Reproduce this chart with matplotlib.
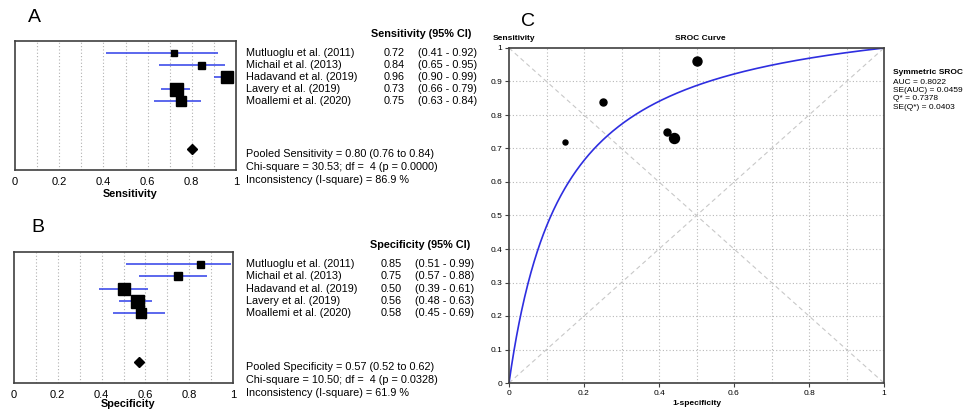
import numpy as np
import matplotlib
matplotlib.use('Agg')
import matplotlib.pyplot as plt

plt.rcParams['font.family'] = ['Liberation Sans', 'DejaVu Sans']

# study data
studies = ['Mutluoglu et al. (2011)', 'Michail et al. (2013)', 'Hadavand et al. (2019)',
           'Lavery et al. (2019)', 'Moallemi et al. (2020)']
sens = [0.72, 0.84, 0.96, 0.73, 0.75]
sens_lo = [0.41, 0.65, 0.90, 0.66, 0.63]
sens_hi = [0.92, 0.95, 0.99, 0.79, 0.84]
spec = [0.85, 0.75, 0.50, 0.56, 0.58]
spec_lo = [0.51, 0.57, 0.39, 0.48, 0.45]
spec_hi = [0.99, 0.88, 0.61, 0.63, 0.69]
# relative study weights (marker size)
sens_weight = [6, 7, 12, 13, 10]
spec_weight = [7, 8, 12, 13, 10]
circle_weight = [5, 7, 9, 10, 7]

pooled_sens = 0.80
pooled_spec = 0.57
sens_stats = ['Pooled Sensitivity = 0.80 (0.76 to 0.84)',
              'Chi-square = 30.53; df =  4 (p = 0.0000)',
              'Inconsistency (I-square) = 86.9 %']
spec_stats = ['Pooled Specificity = 0.57 (0.52 to 0.62)',
              'Chi-square = 10.50; df =  4 (p = 0.0328)',
              'Inconsistency (I-square) = 61.9 %']
sroc_stats = ['AUC = 0.8022', 'SE(AUC) = 0.0459', 'Q* = 0.7378', 'SE(Q*) = 0.0403']
q_star = 0.7378

W, H = 974, 411
fig = plt.figure(figsize=(W / 100, H / 100), dpi=100)
FS = 7.8


def px_axes(l, t, r, b):
    return fig.add_axes([l / W, 1 - b / H, (r - l) / W, (b - t) / H])


def forest(box, est, lo, hi, wt, pooled, title, xlabel, label_px, stats, letter,
           letter_xy, name_px, val_px, ci_px, head_px):
    l, t, r, b = box
    ax = px_axes(l, t, r, b)
    rows = np.arange(1, len(est) + 1)
    ax.hlines(rows, lo, hi, color='#2f3fe8', lw=1.1, zorder=2)
    for y, e, w in zip(rows, est, wt):
        ax.plot(e, y, 's', color='black', ms=w * 0.72, zorder=3)
    ax.plot(pooled, 9.0, 'D', color='black', ms=5, zorder=3)
    ax.set_xlim(0, 1)
    ax.set_ylim(10.75, 0)
    ax.set_yticks([])
    ax.set_xticks(np.arange(0, 1.01, 0.2))
    ax.set_xticklabels(['0', '0.2', '0.4', '0.6', '0.8', '1'])
    ax.tick_params(axis='x', length=0, pad=5, labelsize=8)
    for gx in np.arange(0.1, 1.0, 0.1):
        ax.axvline(gx, color='#b0b0b0', lw=0.8, ls=(0, (1, 2)), zorder=1)
    for s in ax.spines.values():
        s.set_color('#404040')
        s.set_linewidth(1.2)
    ax.set_xlabel(xlabel, fontsize=FS, fontweight='bold', labelpad=0)
    ax.xaxis.label.set_va('center')
    ax.xaxis.set_label_coords(0.52, -(label_px - b) / (b - t))

    wpx = r - l
    tr = ax.get_yaxis_transform()
    ax.text((head_px - l) / wpx, -0.6, title, transform=tr, ha='right', va='center',
            fontsize=FS, fontweight='bold', clip_on=False)
    for y, name, e, a, c in zip(rows, studies, est, lo, hi):
        ax.text((name_px - l) / wpx, y, name, transform=tr, ha='left', va='center',
                fontsize=FS, clip_on=False)
        ax.text((val_px - l) / wpx, y, f'{e:.2f}', transform=tr, ha='right', va='center',
                fontsize=FS, clip_on=False)
        ax.text((ci_px - l) / wpx, y, f'({a:.2f} - {c:.2f})', transform=tr, ha='right',
                va='center', fontsize=FS, clip_on=False)
    for y, s in zip([9.45, 10.5, 11.55], stats):
        ax.text((name_px - l) / wpx, y, s, transform=tr, ha='left', va='center',
                fontsize=FS, clip_on=False)
    fig.text(letter_xy[0] / W, 1 - letter_xy[1] / H, letter, fontsize=14,
             ha='center', va='center')
    return ax


forest((15, 41, 236, 170), sens, sens_lo, sens_hi, sens_weight, pooled_sens,
       'Sensitivity (95% CI)', 'Sensitivity', 194, sens_stats, 'A', (34, 18),
       246, 405, 477, 471)
forest((14, 252, 233, 383), spec, spec_lo, spec_hi, spec_weight, pooled_spec,
       'Specificity (95% CI)', 'Specificity', 404, spec_stats, 'B', (38, 227),
       246, 402, 474, 470)

# SROC panel
axc = px_axes(509, 48, 884, 383)
for g in np.arange(0.1, 1.0, 0.1):
    axc.axvline(g, color='#b8b8b8', lw=0.8, ls=(0, (1, 2)), zorder=1)
    axc.axhline(g, color='#b8b8b8', lw=0.8, ls=(0, (1, 2)), zorder=1)
axc.plot([0, 1], [0, 1], color='#c8c8c8', lw=0.8, ls=(0, (4, 3)), zorder=1)
axc.plot([0, 1], [1, 0], color='#c8c8c8', lw=0.8, ls=(0, (4, 3)), zorder=1)

# symmetric Moses-Littenberg curve from Q*
a = 2 * np.log(q_star / (1 - q_star))
fpr = np.linspace(1e-4, 1 - 1e-6, 600)
tpr = 1 / (1 + np.exp(-(a + np.log(fpr / (1 - fpr)))))
axc.plot(np.r_[0, fpr, 1], np.r_[0, tpr, 1], color='#2e2ee0', lw=1.2, zorder=2)

fpr_pts = [1 - s for s in spec]
for x, y, w in zip(fpr_pts, sens, circle_weight):
    axc.plot(x, y, 'o', color='black', ms=w * 0.72, zorder=3)

axc.set_xlim(0, 1)
axc.set_ylim(0, 1)
axc.set_xticks(np.arange(0, 1.01, 0.2))
axc.set_xticklabels(['0', '0.2', '0.4', '0.6', '0.8', '1'])
axc.set_yticks(np.arange(0, 1.01, 0.1))
axc.set_yticklabels(['0', '0.1', '0.2', '0.3', '0.4', '0.5', '0.6', '0.7', '0.8', '0.9', '1'])
axc.tick_params(labelsize=6, length=3, width=0.8, color='#404040', pad=2)
for s in axc.spines.values():
    s.set_color('#404040')
    s.set_linewidth(1.2)
axc.set_xlabel('1-specificity', fontsize=6, fontweight='bold', labelpad=2)
fig.text(493 / W, 1 - 39 / H, 'Sensitivity', fontsize=6, fontweight='bold',
         ha='left', va='center')
fig.text(700 / W, 1 - 39 / H, 'SROC Curve', fontsize=6, fontweight='bold',
         ha='center', va='center')
fig.text(528 / W, 1 - 22 / H, 'C', fontsize=14, ha='center', va='center')
fig.text(893 / W, 1 - 73 / H, 'Symmetric SROC', fontsize=6, fontweight='bold',
         ha='left', va='center')
for i, s in enumerate(sroc_stats):
    fig.text(893 / W, 1 - (82 + 8.4 * i) / H, s, fontsize=6, ha='left', va='center')

fig.savefig('out.png', dpi=100)
